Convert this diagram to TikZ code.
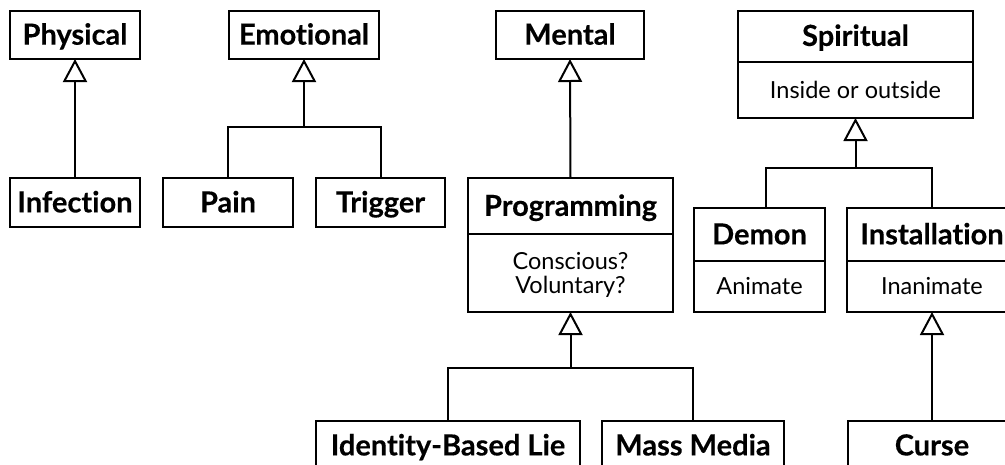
\documentclass[tikz,border=0pt]{standalone}
\usepackage{fontspec}
\setmainfont{Lato}[Ligatures=NoCommon, BoldFeatures={FakeBold=0.3}]
\usetikzlibrary{arrows.meta,calc}
\tikzset{
  box/.style={draw, line width=2pt, inner sep=0pt, outer sep=0pt, anchor=north west, align=center},
  ttl/.style={box, font=\fontsize{29}{34}\selectfont\bfseries, text height=20.8pt, text depth=1pt},
  att/.style={box, font=\fontsize{23.5}{24}\selectfont, text height=16.8pt, text depth=0pt},
  link/.style={line width=2pt},
  inh/.style={link, -{Triangle[length=23pt,width=24pt,fill=white,line width=2pt]}},
}
\begin{document}
\begin{tikzpicture}[x=1pt,y=-1pt]
\clip (0,0) rectangle (1005,464);
\fill[white] (0,0) rectangle (1005,464);
% top row
\node[ttl, minimum width=130pt, minimum height=48.5pt] (physical) at (10,10.5) {Physical};
\node[ttl, minimum width=150pt, minimum height=48.5pt] (emotional) at (229,10.5) {Emotional};
\node[ttl, minimum width=148pt, minimum height=48.5pt] (mental) at (496,10.5) {Mental};
\node[ttl, minimum width=235pt, minimum height=51pt] (spiritual) at (738,10.5) {Spiritual};
\node[att, minimum width=235pt, minimum height=56.5pt] (spiritualA) at (spiritual.south west) {Inside or outside};
% second row
\node[ttl, minimum width=130pt, minimum height=49pt] (infection) at (10,178) {Infection};
\node[ttl, minimum width=130pt, minimum height=49pt] (pain) at (163,178) {Pain};
\node[ttl, minimum width=129pt, minimum height=49pt] (trigger) at (316,178) {Trigger};
\node[ttl, minimum width=205pt, minimum height=56pt] (programming) at (468,178) {Programming};
\node[box, font=\fontsize{23.5}{24}\selectfont, text depth=0pt, minimum width=205pt, minimum height=78pt] (programmingA) at (programming.south west) {Conscious?\\Voluntary?};
\node[ttl, minimum width=131pt, minimum height=53pt] (demon) at (694,208) {Demon};
\node[att, minimum width=131pt, minimum height=51pt] (demonA) at (demon.south west) {Animate};
\node[ttl, minimum width=170pt, minimum height=53pt] (installation) at (847,208) {Installation};
\node[att, minimum width=170pt, minimum height=51pt] (installationA) at (installation.south west) {Inanimate};
% bottom row
\node[ttl, minimum width=264pt, minimum height=49pt] (identity) at (316,421) {Identity-Based Lie};
\node[ttl, minimum width=182pt, minimum height=49pt] (massmedia) at (602,421) {Mass Media};
\node[ttl, minimum width=168pt, minimum height=49pt] (curse) at (848,421) {Curse};
% connectors
\draw[inh] (infection.north) -- (physical.south);
\coordinate (ej) at (emotional.south |- 0,127);
\draw[link] (pain.north) |- (ej) -| (trigger.north);
\draw[inh] (ej) -- (emotional.south);
\draw[inh] (programming.north) -- (mental.south);
\coordinate (pj) at (programmingA.south |- 0,368);
\draw[link] (identity.north) |- (pj) -| (massmedia.north);
\draw[inh] (pj) -- (programmingA.south);
\coordinate (sj) at (spiritualA.south |- 0,168);
\draw[link] ([xshift=6.5pt]demon.north) |- (sj) -| (installation.north);
\draw[inh] (sj) -- (spiritualA.south);
\draw[inh] (curse.north) -- (installationA.south);
\end{tikzpicture}
\end{document}
